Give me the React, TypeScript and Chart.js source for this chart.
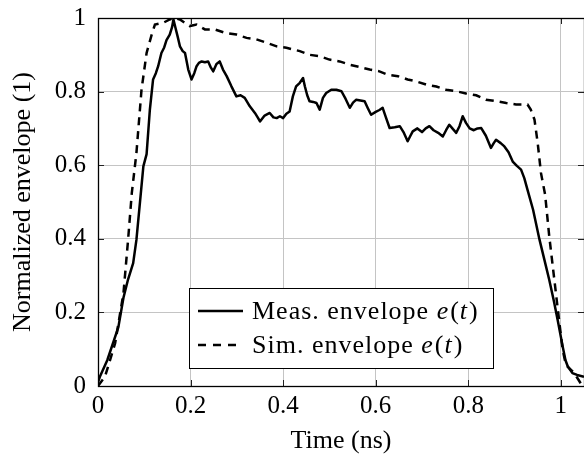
import React, { useEffect, useRef } from "react";
import { Chart, registerables } from "chart.js";

Chart.register(...registerables);

// Measured envelope
const measTime = [
  0, 0.004, 0.02, 0.044, 0.055, 0.065, 0.076, 0.083, 0.09, 0.098, 0.105, 0.112, 0.119, 0.125, 0.13, 0.137,
  0.143, 0.148, 0.155, 0.16, 0.163, 0.168, 0.172, 0.177, 0.183, 0.188, 0.195, 0.202, 0.208, 0.213, 0.218,
  0.224, 0.231, 0.238, 0.244, 0.249, 0.256, 0.263, 0.27, 0.278, 0.288, 0.299, 0.308, 0.317, 0.328, 0.339,
  0.345, 0.35, 0.36, 0.371, 0.379, 0.386, 0.393, 0.4, 0.407, 0.414, 0.421, 0.428, 0.436, 0.443, 0.447,
  0.452, 0.457, 0.465, 0.472, 0.479, 0.486, 0.493, 0.504, 0.515, 0.526, 0.535, 0.544, 0.551, 0.558, 0.567,
  0.576, 0.583, 0.59, 0.6, 0.608, 0.615, 0.622, 0.63, 0.641, 0.652, 0.66, 0.669, 0.675, 0.68, 0.69, 0.7,
  0.708, 0.716, 0.725, 0.735, 0.745, 0.752, 0.759, 0.767, 0.774, 0.781, 0.788, 0.795, 0.803, 0.812, 0.82,
  0.828, 0.838, 0.849, 0.855, 0.86, 0.87, 0.878, 0.887, 0.896, 0.905, 0.914, 0.921, 0.928, 0.94, 0.954,
  0.965, 0.975, 0.985, 0.993, 1.004, 1.01, 1.015, 1.025, 1.035, 1.05,
];
const measValue = [
  0.01, 0.025, 0.07, 0.16, 0.24, 0.29, 0.334, 0.397, 0.49, 0.597, 0.63, 0.75, 0.833, 0.85, 0.869, 0.905,
  0.92, 0.94, 0.955, 0.975, 0.996, 0.97, 0.95, 0.923, 0.91, 0.905, 0.86, 0.833, 0.85, 0.869, 0.878,
  0.882, 0.88, 0.882, 0.865, 0.855, 0.875, 0.882, 0.86, 0.842, 0.815, 0.787, 0.79, 0.783, 0.76, 0.742,
  0.73, 0.719, 0.735, 0.742, 0.73, 0.728, 0.733, 0.728, 0.74, 0.746, 0.787, 0.814, 0.824, 0.837, 0.814,
  0.79, 0.774, 0.772, 0.769, 0.751, 0.783, 0.796, 0.805, 0.805, 0.801, 0.78, 0.756, 0.77, 0.778, 0.776,
  0.774, 0.755, 0.737, 0.745, 0.75, 0.756, 0.73, 0.701, 0.703, 0.706, 0.69, 0.665, 0.68, 0.692, 0.7, 0.69,
  0.7, 0.706, 0.695, 0.688, 0.678, 0.695, 0.71, 0.698, 0.688, 0.706, 0.733, 0.715, 0.7, 0.695, 0.7,
  0.701, 0.68, 0.647, 0.66, 0.669, 0.66, 0.651, 0.635, 0.61, 0.598, 0.588, 0.565, 0.533, 0.479, 0.397,
  0.34, 0.288, 0.23, 0.18, 0.107, 0.07, 0.053, 0.035, 0.03, 0.025,
];

// Simulated envelope
const simTime = [
  0, 0.015, 0.037, 0.055, 0.065, 0.073, 0.083, 0.094, 0.105, 0.116, 0.123, 0.141, 0.155, 0.165, 0.177,
  0.198, 0.213, 0.231, 0.252, 0.274, 0.299, 0.321, 0.342, 0.364, 0.386, 0.407, 0.436, 0.457, 0.479, 0.5,
  0.522, 0.544, 0.565, 0.587, 0.608, 0.626, 0.648, 0.669, 0.687, 0.709, 0.731, 0.752, 0.774, 0.795, 0.817,
  0.838, 0.86, 0.882, 0.903, 0.928, 0.935, 0.943, 0.95, 0.957, 0.966, 0.975, 0.986, 0.997, 1.004, 1.011,
  1.029, 1.043, 1.05,
];
const simValue = [
  0, 0.025, 0.116, 0.252, 0.397, 0.524, 0.633, 0.805, 0.905, 0.955, 0.982, 0.987, 0.996, 1.0, 0.996,
  0.978, 0.982, 0.969, 0.969, 0.96, 0.955, 0.946, 0.942, 0.933, 0.923, 0.919, 0.91, 0.9, 0.896, 0.887,
  0.882, 0.873, 0.867, 0.86, 0.855, 0.846, 0.842, 0.833, 0.828, 0.819, 0.814, 0.805, 0.801, 0.795, 0.79,
  0.778, 0.774, 0.769, 0.765, 0.765, 0.751, 0.724, 0.66, 0.579, 0.52, 0.406, 0.288, 0.17, 0.098, 0.057,
  0.035, 0.007, 0,
];

const xTicks = [0, 0.2, 0.4, 0.6, 0.8, 1];
const yTicks = [0, 0.2, 0.4, 0.6, 0.8, 1];
const xTitle = "Time (ns)";
const yTitle = "Normalized envelope (1)";
const legendRows = [
  { prefix: "Meas. envelope ", dashed: false },
  { prefix: "Sim. envelope ", dashed: true },
];

const FONT = "'Liberation Serif', 'Times New Roman', serif";
const FS = 25;

const framePlugin = {
  id: "pgfFrame",
  afterDatasetsDraw(chart: any) {
    const { ctx, chartArea: a, scales } = chart;
    ctx.save();
    // inward ticks
    ctx.strokeStyle = "#222";
    ctx.lineWidth = 1;
    const tl = 6;
    xTicks.forEach((v) => {
      const px = Math.round(scales.x.getPixelForValue(v)) + 0.5;
      ctx.beginPath();
      ctx.moveTo(px, a.bottom);
      ctx.lineTo(px, a.bottom - tl);
      ctx.moveTo(px, a.top);
      ctx.lineTo(px, a.top + tl);
      ctx.stroke();
    });
    yTicks.forEach((v) => {
      const py = Math.round(scales.y.getPixelForValue(v)) + 0.5;
      ctx.beginPath();
      ctx.moveTo(a.left, py);
      ctx.lineTo(a.left + tl, py);
      ctx.moveTo(a.right, py);
      ctx.lineTo(a.right - tl, py);
      ctx.stroke();
    });
    // frame
    ctx.strokeStyle = "#000";
    ctx.lineWidth = 1.3;
    ctx.strokeRect(Math.round(a.left) + 0.5, Math.round(a.top) + 0.5, a.right - a.left, a.bottom - a.top);

    // legend box
    const bx = a.left + 91;
    const by = a.top + 270;
    const bw = 304;
    const bh = 80;
    ctx.fillStyle = "#fff";
    ctx.fillRect(bx, by, bw, bh);
    ctx.strokeStyle = "#000";
    ctx.lineWidth = 1;
    ctx.strokeRect(bx + 0.5, by + 0.5, bw, bh);

    legendRows.forEach((row, i) => {
      const cy = by + 23 + i * 34;
      ctx.beginPath();
      ctx.lineWidth = 2.6;
      ctx.strokeStyle = "#000";
      ctx.setLineDash(row.dashed ? [8, 7] : []);
      ctx.moveTo(bx + 9, cy);
      ctx.lineTo(bx + 54, cy);
      ctx.stroke();
      ctx.setLineDash([]);
      let x = bx + 63;
      ctx.fillStyle = "#000";
      ctx.textBaseline = "middle";
      ctx.textAlign = "left";
      try {
        (ctx as any).letterSpacing = "1px";
      } catch (e) {}
      const parts: [string, boolean][] = [
        [row.prefix, false],
        ["e", true],
        ["(", false],
        ["t", true],
        [")", false],
      ];
      parts.forEach(([s, it]) => {
        ctx.font = `${it ? "italic " : ""}${FS + 1}px ${FONT}`;
        ctx.fillText(s, x, cy + 1);
        x += ctx.measureText(s).width + (it ? 1 : 0);
      });
      try {
        (ctx as any).letterSpacing = "0px";
      } catch (e) {}
    });
    ctx.restore();
  },
};

export default function App() {
  const ref = useRef<HTMLCanvasElement | null>(null);
  useEffect(() => {
    if (!ref.current) return;
    const chart = new Chart(ref.current, {
      type: "line",
      data: {
        datasets: [
          {
            label: "Meas. envelope e(t)",
            data: measTime.map((t, i) => ({ x: t, y: measValue[i] })),
            borderColor: "#000",
            borderWidth: 2.5,
            pointRadius: 0,
            tension: 0,
            fill: false,
            borderJoinStyle: "round",
          },
          {
            label: "Sim. envelope e(t)",
            data: simTime.map((t, i) => ({ x: t, y: simValue[i] })),
            borderColor: "#000",
            borderWidth: 2.5,
            borderDash: [8, 6],
            pointRadius: 0,
            tension: 0,
            fill: false,
          },
        ],
      },
      options: {
        animation: false,
        responsive: false,
        maintainAspectRatio: false,
        layout: { padding: { top: 18, right: 0, left: 0, bottom: 0 } },
        plugins: { legend: { display: false }, tooltip: { enabled: false } },
        scales: {
          x: {
            type: "linear",
            min: 0,
            max: 1.05,
            afterBuildTicks: (axis: any) => {
              axis.ticks = xTicks.map((v) => ({ value: v }));
            },
            afterFit: (axis: any) => {
              axis.height = 71;
              axis.paddingLeft = 0;
              axis.paddingRight = 0;
            },
            ticks: {
              padding: 5,
              color: "#000",
              font: { family: FONT, size: FS },
              callback: (v: any) => String(v),
              maxRotation: 0,
            },
            grid: { color: "#c4c4c4", lineWidth: 1, drawTicks: false },
            border: { display: false },
            title: {
              display: true,
              text: xTitle,
              color: "#000",
              font: { family: FONT, size: FS + 1 },
              padding: { top: 0, bottom: 0 },
            },
          },
          y: {
            type: "linear",
            min: 0,
            max: 1,
            afterBuildTicks: (axis: any) => {
              axis.ticks = yTicks.map((v) => ({ value: v }));
            },
            afterFit: (axis: any) => {
              axis.width = 98;
              axis.paddingTop = 0;
              axis.paddingBottom = 0;
            },
            ticks: {
              padding: 12,
              color: "#000",
              font: { family: FONT, size: FS },
              callback: (v: any) => String(v),
            },
            grid: { color: "#c4c4c4", lineWidth: 1, drawTicks: false },
            border: { display: false },
            title: {
              display: true,
              text: yTitle,
              color: "#000",
              font: { family: FONT, size: FS + 1 },
              padding: { top: 8, bottom: 0 },
            },
          },
        },
      },
      plugins: [framePlugin],
    } as any);
    return () => chart.destroy();
  }, []);

  return (
    <div style={{ position: "fixed", left: 0, top: 0, width: 584, height: 457, background: "#fff" }}>
      <canvas ref={ref} width={584} height={457} />
    </div>
  );
}
